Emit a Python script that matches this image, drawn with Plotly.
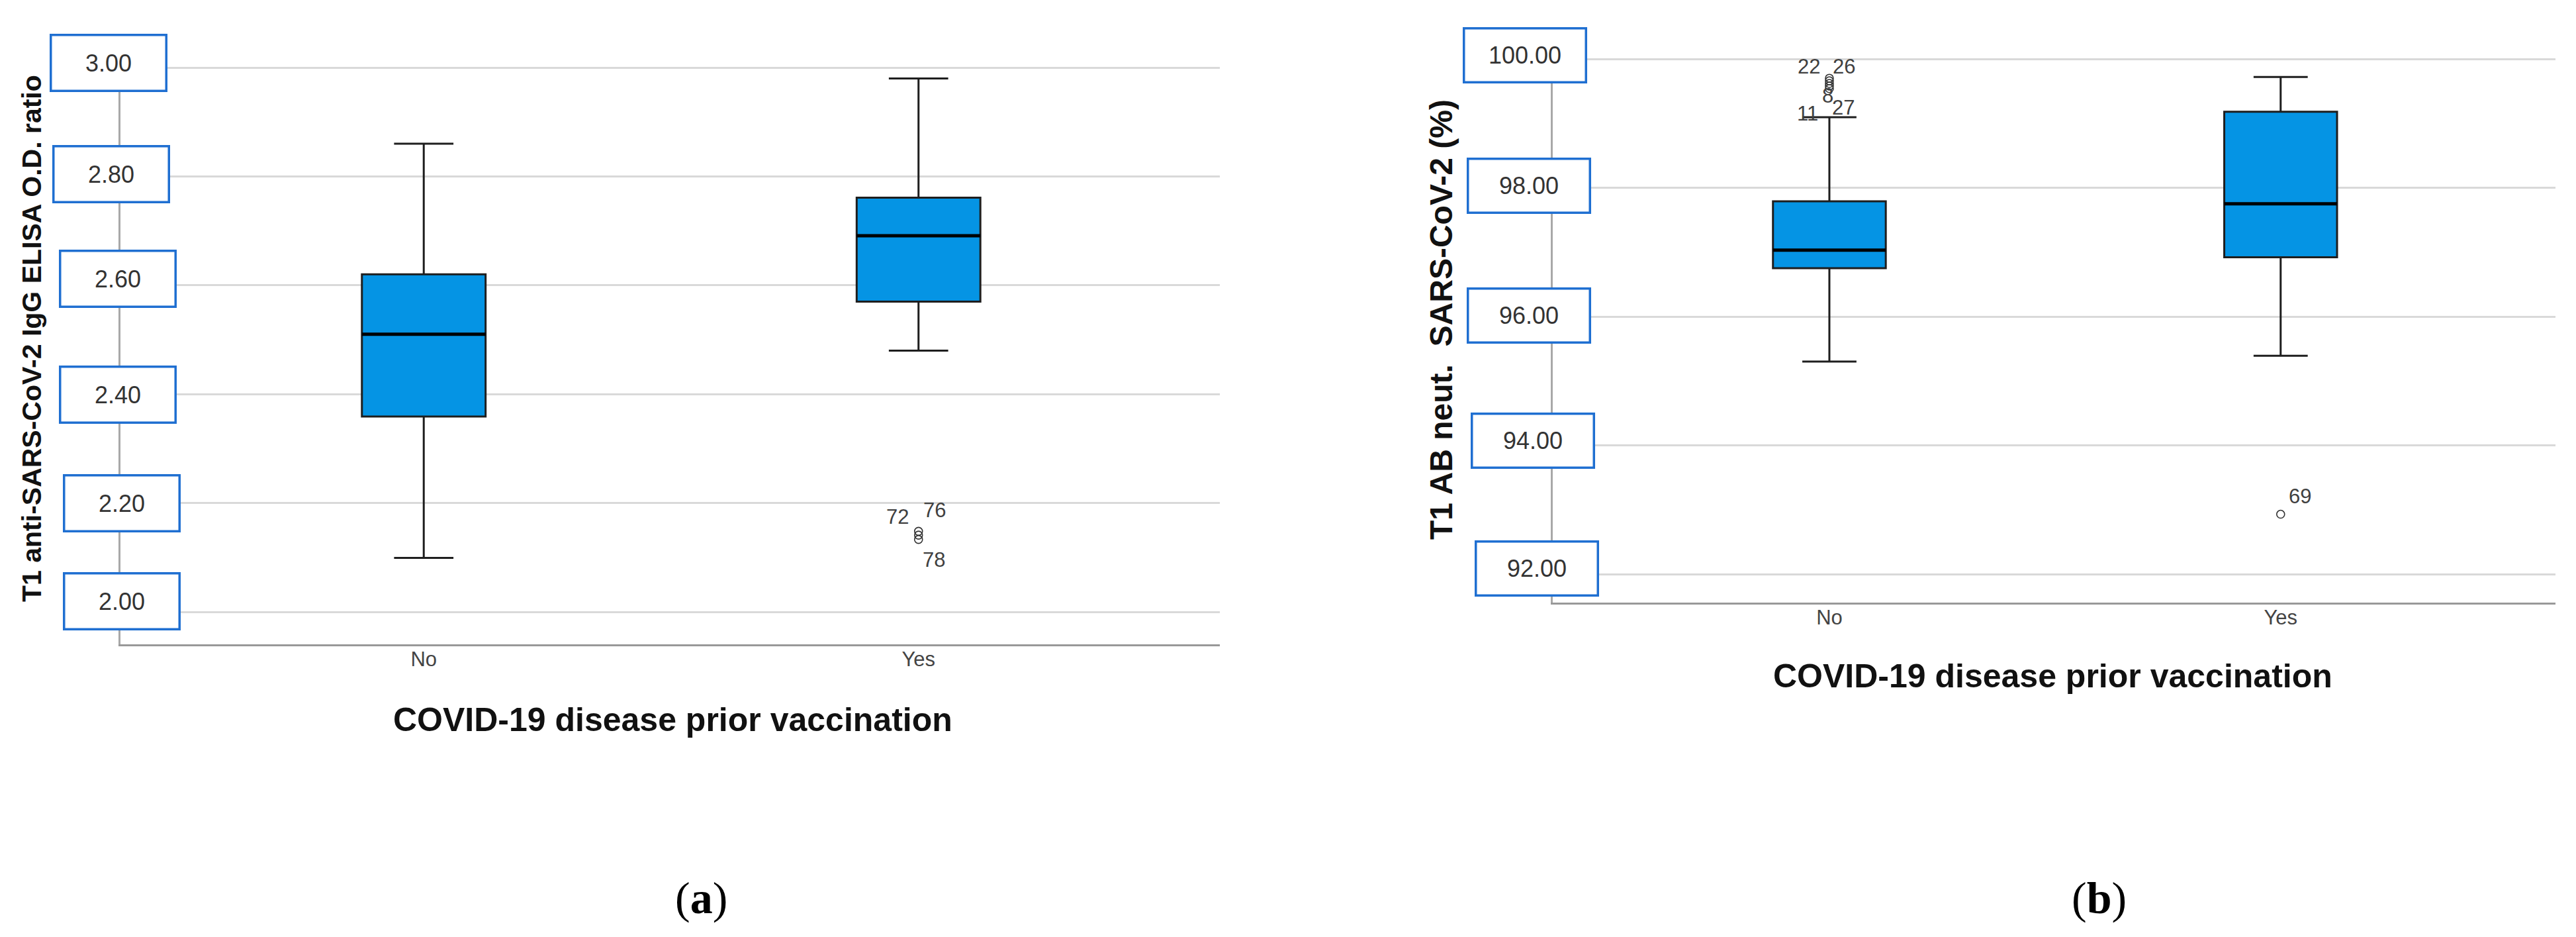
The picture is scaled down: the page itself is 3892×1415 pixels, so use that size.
import plotly.graph_objects as go

W, H = 3892, 1415

# ---------------- data ----------------
categories = ["No", "Yes"]

# panel (a): T1 anti-SARS-CoV-2 IgG ELISA O.D. ratio
a_q1 = [2.359, 2.570]
a_median = [2.510, 2.691]
a_q3 = [2.620, 2.761]
a_lower = [2.099, 2.480]
a_upper = [2.860, 2.980]
a_out_cat = [1, 1, 1]
a_out_val = [2.148, 2.141, 2.133]
a_out_ids = ["72", "76", "78"]
a_ticks = [2.00, 2.20, 2.40, 2.60, 2.80, 3.00]

# panel (b): T1 AB neut. SARS-CoV-2 (%)
b_q1 = [96.75, 96.92]
b_median = [97.03, 97.75]
b_q3 = [97.79, 99.18]
b_lower = [95.30, 95.39]
b_upper = [99.095, 99.72]
b_out_cat = [0, 0, 0, 0, 0, 1]
b_out_val = [99.70, 99.66, 99.62, 99.58, 99.54, 92.93]
b_out_ids = ["22", "26", "8", "11", "27", "69"]
b_ticks = [92.00, 94.00, 96.00, 98.00, 100.00]

x_title = "COVID-19 disease prior vaccination"
a_y_title = "T1 anti-SARS-CoV-2 IgG ELISA O.D. ratio"
b_y_title = "T1 AB neut.  SARS-CoV-2 (%)"

# ---------------- style ----------------
FILL = "#0594e4"
EDGE = "#1e1e1e"
GRID = "#d9d9d9"
AXIS = "#a8a8a8"
BLUE = "#1f6fd1"
SANS = "Liberation Sans, Arial, sans-serif"
SERIF = "Liberation Serif, Times New Roman, serif"
BOXW = 0.25

# tick-label box styling (pixel centers / vertical offsets)
a_box_x = {3.00: 155.5, 2.80: 159.5, 2.60: 169.5, 2.40: 169.5, 2.20: 175.5, 2.00: 175.5}
a_box_dy = {3.00: 7.5, 2.80: 3, 2.60: 10, 2.40: -1, 2.20: 0, 2.00: 16}
b_box_x = {100.00: 2295.5, 98.00: 2302, 96.00: 2302, 94.00: 2307.5, 92.00: 2313.5}
b_box_dy = {100.00: 5, 98.00: 3.5, 96.00: 2, 94.00: 7, 92.00: 9}

# outlier label offsets (px)
a_lab_off = {"72": (-32, 22), "76": (24, 38), "78": (23, -31)}
b_lab_off = {"22": (-31, 18), "26": (22, 22), "8": (-2, -19), "11": (-33, -42),
             "27": (21, -29), "69": (29, 27)}

fig = go.Figure()


def add_panel(xa, ya, q1, med, q3, lo, hi, ocat, oval, oids, off):
    xs = list(range(len(categories)))
    fig.add_trace(go.Box(
        x=xs, q1=q1, median=med, q3=q3, lowerfence=lo, upperfence=hi,
        width=BOXW, whiskerwidth=0.48, fillcolor=FILL,
        line=dict(color=EDGE, width=3), boxpoints=False,
        xaxis=xa, yaxis=ya, showlegend=False, hoverinfo="skip"))
    for i, m in enumerate(med):
        fig.add_trace(go.Scatter(
            x=[xs[i] - BOXW / 2, xs[i] + BOXW / 2], y=[m, m], mode="lines",
            line=dict(color="#000000", width=5), xaxis=xa, yaxis=ya,
            showlegend=False, hoverinfo="skip"))
    fig.add_trace(go.Scatter(
        x=ocat, y=oval, mode="markers",
        marker=dict(symbol="circle-open", size=12, color="#333333",
                    line=dict(width=1.6, color="#333333")),
        xaxis=xa, yaxis=ya, showlegend=False, hoverinfo="skip"))
    for c, v, t in zip(ocat, oval, oids):
        dx, dy = off[t]
        fig.add_annotation(x=c, y=v, xref=xa, yref=ya, text=t, showarrow=False,
                           xshift=dx, yshift=dy, xanchor="center", yanchor="middle",
                           font=dict(family=SANS, size=31, color="#404040"))


add_panel("x", "y", a_q1, a_median, a_q3, a_lower, a_upper,
          a_out_cat, a_out_val, a_out_ids, a_lab_off)
add_panel("x2", "y2", b_q1, b_median, b_q3, b_lower, b_upper,
          b_out_cat, b_out_val, b_out_ids, b_lab_off)

# tick label boxes
for t in a_ticks:
    fig.add_annotation(x=a_box_x[t] / W, xref="paper", y=t, yref="y",
                       yshift=a_box_dy[t], text=f"{t:.2f}", showarrow=False,
                       width=171, height=81, borderpad=0, borderwidth=3.5,
                       bordercolor=BLUE, bgcolor="white", xanchor="center",
                       yanchor="middle",
                       font=dict(family=SANS, size=36, color="#333333"))
for t in b_ticks:
    fig.add_annotation(x=b_box_x[t] / W, xref="paper", y=t, yref="y2",
                       yshift=b_box_dy[t], text=f"{t:.2f}", showarrow=False,
                       width=181, height=78, borderpad=0, borderwidth=3.5,
                       bordercolor=BLUE, bgcolor="white", xanchor="center",
                       yanchor="middle",
                       font=dict(family=SANS, size=36, color="#333333"))


def paper_text(px, py, text, size, family=SANS, angle=0, color="#111111"):
    fig.add_annotation(x=px / W, y=1 - py / H, xref="paper", yref="paper",
                       text=text, textangle=angle, showarrow=False,
                       xanchor="center", yanchor="middle",
                       font=dict(family=family, size=size, color=color))


# axis titles
paper_text(40, 503, f"<b>{a_y_title}</b>", 41, angle=-90)
paper_text(2170, 475, f"<b>{b_y_title}</b>", 48, angle=-90)
paper_text(1008, 1079, f"<b>{x_title}</b>", 50)
paper_text(3093, 1013, f"<b>{x_title}</b>", 50)

# panel letters
paper_text(1051, 1348, "(<b>a</b>)", 68, family=SERIF, color="#000000")
paper_text(3163, 1348, "(<b>b</b>)", 68, family=SERIF, color="#000000")

xcommon = dict(tickvals=[0, 1], ticktext=categories, ticks="", showgrid=False,
               zeroline=False, showline=True, linecolor="#999999", linewidth=3,
               range=[-0.613, 1.609], ticklabelstandoff=-7,
               tickfont=dict(family=SANS, size=31, color="#444444"))
ycommon = dict(showticklabels=False, ticks="", showgrid=True, gridcolor=GRID,
               gridwidth=3, zeroline=False, showline=True, linecolor=AXIS,
               linewidth=3)

a_per = 822.0
b_per = 97.25
fig.update_layout(
    width=W, height=H, margin=dict(l=0, r=0, t=0, b=0),
    paper_bgcolor="white", plot_bgcolor="white", showlegend=False,
    xaxis=dict(domain=[174 / W, 1835 / W], anchor="y", **xcommon),
    yaxis=dict(domain=[1 - 965 / H, 1 - 50 / H], anchor="x",
               range=[2.0 - (965 - 916) / a_per, 3.0 + (94 - 50) / a_per],
               tickvals=a_ticks, **ycommon),
    xaxis2=dict(domain=[2338 / W, 3853 / W], anchor="y2", **xcommon),
    yaxis2=dict(domain=[1 - 902 / H, 1 - 40 / H], anchor="x2",
                range=[92.0 - (902 - 859) / b_per, 100.0 + (81 - 40) / b_per],
                tickvals=b_ticks, **ycommon),
)

fig.write_html("out.html")
